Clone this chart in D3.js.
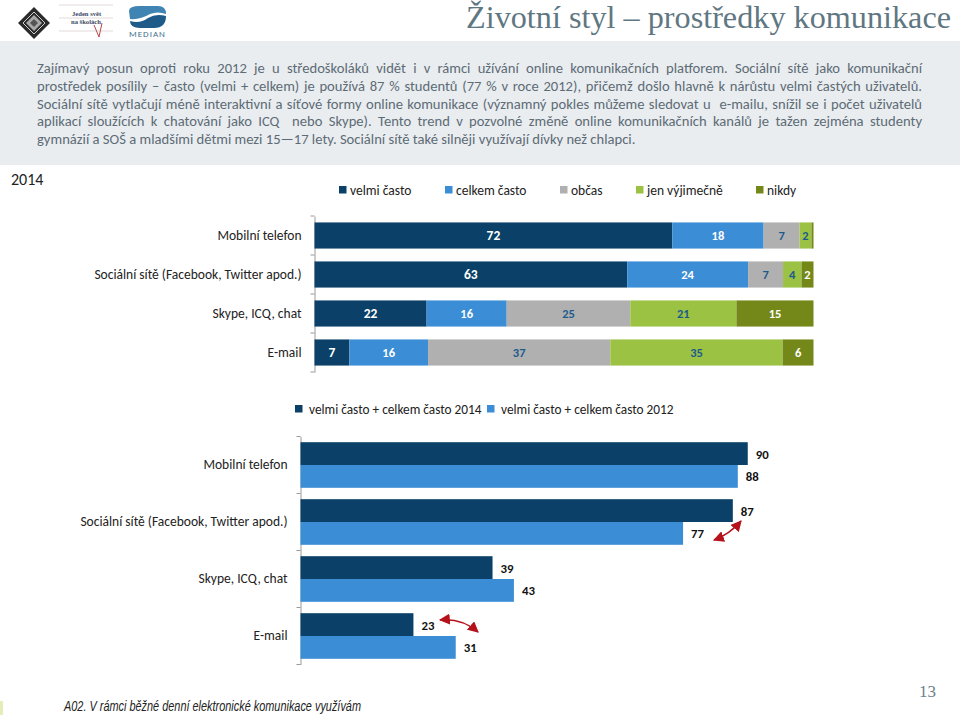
<!DOCTYPE html>
<html lang="cs"><head><meta charset="utf-8">
<script src="https://cdn.jsdelivr.net/npm/d3@7/dist/d3.min.js"></script>
<style>html,body{margin:0;padding:0;background:#fff}svg{display:block}text{font-family:Carlito,Lato,"Open Sans",sans-serif}</style>
</head><body><svg id="c" width="960" height="715"></svg>
<script>
const titleText = "Životní styl – prostředky komunikace";
const bodyLines = [
 "Zajímavý posun oproti roku 2012 je u středoškoláků vidět i v rámci užívání online komunikačních platforem. Sociální sítě jako komunikační",
 "prostředek posílily – často (velmi + celkem) je používá 87 % studentů (77 % v roce 2012), přičemž došlo hlavně k nárůstu velmi častých uživatelů.",
 "Sociální sítě vytlačují méně interaktivní a síťové formy online komunikace (významný pokles můžeme sledovat u  e-mailu, snížil se i počet uživatelů",
 "aplikací sloužících k chatování jako ICQ  nebo Skype). Tento trend v pozvolné změně online komunikačních kanálů je tažen zejména studenty",
 "gymnázií a SOŠ a mladšími dětmi mezi 15—17 lety. Sociální sítě také silněji využívají dívky než chlapci."
];
const categories = ["Mobilní telefon","Sociální sítě (Facebook, Twitter apod.)","Skype, ICQ, chat","E-mail"];
const stackSeries = ["velmi často","celkem často","občas","jen výjimečně","nikdy"];
const stackColors = ["#0b4168","#3b8dd6","#b0b0b0","#9bc243","#74881a"];
const stackLabelColors = ["#fff","#fff","#1d5a8c","#1d5a8c","#fff"];
const veryOften = [71.7,62.6,22.4,7.0];
const oftenEnough = [18.3,24.2,16.0,15.8];
const sometimes = [7.2,7.0,24.7,36.6];
const rarely = [2.4,3.7,21.2,34.6];
const never = [0.4,2.4,15.4,6.2];
const compareSeries = ["velmi často + celkem často 2014","velmi často + celkem často 2012"];
const compareColors = ["#0b4168","#3b8dd6"];
const values2014 = [89.9,86.9,38.6,22.7];
const values2012 = [87.9,76.9,42.9,31.2];
const note = "A02. V rámci běžné denní elektronické komunikace využívám";
const yearLabel = "2014";
const pageNumber = "13";

const svg = d3.select("#c");
const txt = "#222";
const fmt = d3.format(".0f");

// header panel
svg.append("rect").attr("x",0).attr("y",41).attr("width",960).attr("height",124).attr("fill","#e9edf0");

// title, sized to its measured width
const title = svg.append("text").text(titleText).attr("x",951).attr("y",28).attr("text-anchor","end")
  .style("font-family","'Liberation Serif',serif").style("font-size","32px").attr("fill","#5f7782");
const tw = title.node().getComputedTextLength();
title.style("font-size",Math.min(33,32*485/tw)+"px");
const tw2 = title.node().getComputedTextLength();
title.style("letter-spacing",((485-tw2)/titleText.length)+"px");

// body text, justified by word spacing
const bodyG = svg.append("g");
bodyLines.forEach((l,i)=>{
  const t = bodyG.append("text").style("white-space","pre").text(l).attr("x",37).attr("y",73+i*17.75)
    .attr("font-size",14.6).attr("fill","#5d6b75");
  const w = t.node().getComputedTextLength();
  const gaps = l.split(" ").length-1;
  if(i<4) t.style("word-spacing",((885-w)/gaps)+"px");
});

// small logos
const logos = svg.append("g");
logos.append("path").attr("d","M34 7 L50 23 L34 39 L18 23 Z").attr("fill","#2b2b2b");
logos.append("path").attr("d","M34 12 L45 23 L34 34 L23 23 Z").attr("fill","none").attr("stroke","#cfcfcf").attr("stroke-width",1);
logos.append("path").attr("d","M34 15 L42 23 L34 31 L26 23 Z").attr("fill","#a9a9a9");
logos.append("path").attr("d","M34 19 L38 23 L34 27 L30 23 Z").attr("fill","#555");
[5,18,31].forEach(y=>logos.append("line").attr("x1",59).attr("x2",113).attr("y1",y).attr("y2",y).attr("stroke","#e3dcdc").attr("stroke-width",1.2));
logos.append("text").text("Jeden svět").attr("x",72).attr("y",16).attr("font-size",6.6).attr("font-weight",700).attr("fill","#3d4a68").style("font-family","'Liberation Serif',serif");
logos.append("text").text("na školách").attr("x",71).attr("y",24).attr("font-size",6.6).attr("font-weight",700).attr("fill","#3d4a68").style("font-family","'Liberation Serif',serif");
logos.append("path").attr("d","M94 25 L99 37 L102 23").attr("fill","none").attr("stroke","#b8474a").attr("stroke-width",1);
logos.append("path").attr("d","M129 11 Q129 6 140 6 L158 6 Q166 6 166 14 Q158 11 150 14 Q140 20 130 19 Z").attr("fill","#3f84b3");
logos.append("path").attr("d","M166 16 Q166 28 154 28 L140 28 Q130 28 130 21 Q140 24 148 18 Q156 13 166 16 Z").attr("fill","#1e5b88");
logos.append("text").text("MEDIAN").attr("x",129).attr("y",37).attr("font-size",9).attr("letter-spacing",1).attr("fill","#3f6f8f");

// year
svg.append("text").text(yearLabel).attr("x",11).attr("y",185).attr("font-size",16).attr("fill",txt);

// top legend
const topLegendX = [339,445,560,636,756];
stackSeries.forEach((s,i)=>{
  svg.append("rect").attr("x",topLegendX[i]).attr("y",186).attr("width",7.5).attr("height",7.5).attr("fill",stackColors[i]);
  svg.append("text").text(s).attr("x",topLegendX[i]+11).attr("y",194.5).attr("font-size",13.5).attr("fill",txt);
});

// stacked chart
const stackRows = categories.map((c,i)=>({cat:c,vals:[veryOften[i],oftenEnough[i],sometimes[i],rarely[i],never[i]]}));
const xS = d3.scaleLinear().domain([0,1]).range([314.5,813.5]);
const yS = d3.scaleBand().domain(categories).range([216,372]).paddingInner(0.33).paddingOuter(0.165);
const axT = svg.append("g").attr("transform","translate(314.5,0)")
  .call(d3.axisLeft(yS).tickSize(0).tickPadding(13));
axT.select(".domain").attr("stroke","#9a9a9a");
axT.selectAll("text").attr("font-size",13.5).attr("fill",txt).style("font-family","Carlito,Lato,sans-serif");
d3.range(5).forEach(i=>{const y=216+i*39;svg.append("line").attr("x1",310.5).attr("x2",314.5).attr("y1",y).attr("y2",y).attr("stroke","#9a9a9a");});
stackRows.forEach(r=>{
  const total = d3.sum(r.vals); let acc=0;
  r.vals.forEach((v,k)=>{
    const x0=xS(acc/total), x1=xS((acc+v)/total); acc+=v;
    svg.append("rect").attr("x",x0).attr("y",yS(r.cat)).attr("width",x1-x0).attr("height",yS.bandwidth()).attr("fill",stackColors[k]);
    if(v>=1) svg.append("text").text(fmt(v)).attr("x",(x0+x1)/2).attr("y",yS(r.cat)+yS.bandwidth()/2+4.5)
      .attr("text-anchor","middle").attr("font-size",k==0?13.5:12.5).attr("font-weight",700).attr("fill",stackLabelColors[k]);
  });
});

// lower legend
const lowLegendX = [295,487];
compareSeries.forEach((s,i)=>{
  svg.append("rect").attr("x",lowLegendX[i]).attr("y",405).attr("width",7.5).attr("height",7.5).attr("fill",compareColors[i]);
  svg.append("text").text(s).attr("x",lowLegendX[i]+14).attr("y",413.5).attr("font-size",13.3).attr("fill",txt);
});

// grouped chart
const xB = d3.scaleLinear().domain([0,100]).range([300.5,798]);
const yB = d3.scaleBand().domain(categories).range([436.5,664.5]).paddingInner(0.2).paddingOuter(0.1);
const axB = svg.append("g").attr("transform","translate(300.5,0)")
  .call(d3.axisLeft(yB).tickSize(0).tickPadding(13));
axB.select(".domain").attr("stroke","#9a9a9a");
axB.selectAll("text").attr("font-size",13.5).attr("fill",txt);
d3.range(5).forEach(i=>{const y=436.5+i*57;svg.append("line").attr("x1",296.5).attr("x2",300.5).attr("y1",y).attr("y2",y).attr("stroke","#9a9a9a");});
const h = yB.bandwidth()/2;
categories.forEach((c,i)=>{
  [values2014[i],values2012[i]].forEach((v,k)=>{
    const y = yB(c)+k*h;
    svg.append("rect").attr("x",xB(0)).attr("y",y).attr("width",xB(v)-xB(0)).attr("height",h).attr("fill",compareColors[k]);
    svg.append("text").text(fmt(v)).attr("x",xB(v)+8).attr("y",y+h/2+5).attr("font-size",12.8).attr("font-weight",700).attr("fill","#111");
  });
});

// change arrows
const defs = svg.append("defs");
defs.append("marker").attr("id","ah").attr("viewBox","0 0 10 10").attr("refX",9).attr("refY",5).attr("markerWidth",11).attr("markerHeight",11)
  .attr("markerUnits","userSpaceOnUse").attr("orient","auto-start-reverse").append("path").attr("d","M0 0 L10 5 L0 10 Z").attr("fill","#b5121b");
const arrow = (x0,y0,x1,y1,cx,cy)=>svg.append("path").attr("d",`M${x0} ${y0} Q${cx} ${cy} ${x1} ${y1}`).attr("fill","none")
  .attr("stroke","#b5121b").attr("stroke-width",1.6).attr("marker-start","url(#ah)").attr("marker-end","url(#ah)");
arrow(714,540,741,521,730,534);
arrow(440,620,478,632,462,618);

// footer
svg.append("text").text(note).attr("x",64).attr("y",711).attr("font-size",14.5).attr("font-style","italic").attr("fill","#222")
  .style("font-family","'Liberation Sans',Arial,sans-serif").attr("textLength",297).attr("lengthAdjust","spacingAndGlyphs");
svg.append("text").text(pageNumber).attr("x",936).attr("y",697).attr("text-anchor","end").attr("font-size",17).attr("fill","#6a818c")
  .style("font-family","'Liberation Serif',serif");
svg.append("rect").attr("x",0).attr("y",701).attr("width",3).attr("height",14).attr("fill","#e4ecb8");
</script></body></html>
